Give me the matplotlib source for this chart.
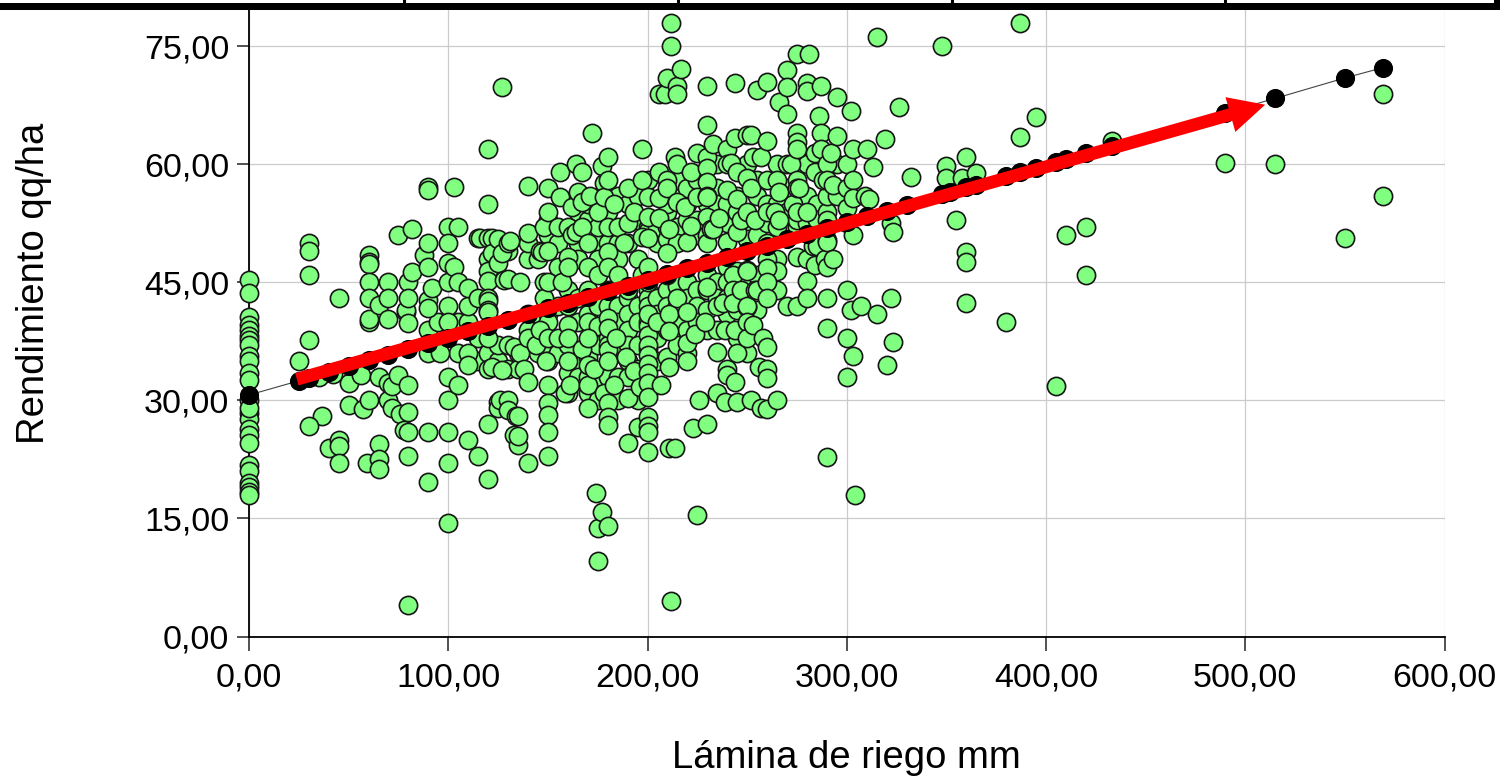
import matplotlib
matplotlib.use('Agg')
import matplotlib.pyplot as plt
import numpy as np
from matplotlib.lines import Line2D
from matplotlib.patches import Rectangle
from matplotlib.ticker import FuncFormatter

plt.rcParams['font.family'] = ['Liberation Sans', 'DejaVu Sans']

#(lamina, rendimiento), grouped by lamina range
sin_riego = [(0,45.3),(0,43.7),(0,40.6),(0,39.6),(0,39.0),(0,38.2),(0,37.7),(0,37.0),(0,35.6),(0,35.0),
             (0,33.5),(0,32.6),(0,28.4),(0,27.6),(0,26.4),(0,25.6),(0,24.6),(0,21.8),(0,21.0),(0,19.5),
             (0,19.0),(0,18.4),(0,18.0),(0,30.0),(0,29.0)]

riego_50 = [(30,50),(30,49),(30,46),(45,43),(30,37.7),(25,35),(36.5,28),(30,26.7),(40,24),(45,25),(45,24.2),
            (45,22),(50,32.2),(50,29.4),(56,33.3),(57,28.9),(42,33.4),(35,33),(60,48.5),(60,47.6),(60,47.3),
            (60,45.1),(60,43),(60,40),(60,40.3),(65,42.1),(65,33),(60,30),(59,22),(65,24.5),(65,22.5),(65,21.3),
            (70,45),(70,43),(70,40.3),(70,30),(70,32.2),(72,31.8),(72,29.1),(75,33.2),(76,28.3),(75,51),(78,26.2),
            (79,41.3),(79,41.5),(80,45),(80,43),(80,39.8),(80,32),(80,28.6),(80,26),(80,23),(80,4),(82,46.3),(82,51.8),
            (88,48.5),(90,50),(90,57.1),(90,56.7),(90,47),(90,42.8),(90,41.7),(90,36),(90,26),(90,19.7),(92,44.3),(96,36)]

riego_100 = [(100,52),(100,50),(100,47.5),(100,45),(100,42),(100,40),(100,33),(100,30),(100,26),(100,22),(100,14.4),
             (103,57.1),(103,47),(105,52),(105,45),(105,32),(110,44.3),(110,25),(110,36),(110,34.5),(115,50.6),(115,43),(115,23),
             (116,50.6),(120,62),(120,55),(120,50.7),(120,48),(120,46.5),(120,45.2),(120,43),(120,42.6),(120,41.5),
             (120,41.3),(120,38),(120,34),(120,27),(120,20),(122,50.6),(122,48.7),(122,34.3),(125,50.5),(125,47.5),
             (125,29.8),(125,29),(126,30),(127,48.8),(127,33.9),(127,69.8),(128,45.3),(130,50),(130,45.4),(130,30),(130,28.8),
             (131,50.3),(133,36.8),(133,25.6),(134,28),(135,28),(135,24.3),(135,25.5),(136,45),(136,36),(138,34),
             (140,57.3),(140,51.3),(140,38),(140,32.4),(140,22),(144,37),(145,48),(146,39),(146,49),(147,48.9),
             (148,52),(148,45),(148,43),(149,35),(150,57),(150,54),(150,49),(150,45),(150,38),(150,32),(150,29.7),(150,28.2),
             (150,26),(150,23),(155,52),(155,38),(156,59),(156,55.9),(157,45),(158.6,31),(160,52),(160,48.3),(160,47),
             (160,39.6),(160,38),(160,35),(161,32),(162,54.6),(162,51),(164,60),(164,51.4),(165,56.5),(167,59),(167,55.2),
             (167,52),(167,36.6),(170,50),(170,47),(170,44),(170,38),(170,34.5),(170,32),(170,29),(171,56),(172,64),(173,34),
             (174,18.2),(175,54),(175,46),(175,9.6),(175,13.8),(177,59.8),(177,15.8),(178,57.6),(178,55.9),(178,31)]

riego_180 = [(180,61),(180,58),(180,52),(180,48.9),(180,47),(180,40.5),(180,39.2),(180,36.4),(180,35),(180,29.7),(180,27.9),
             (180,26.9),(180,14),(183,55),(183,32),(184,38),(185,52),(185,46),(188,50),(189,35.5),(190,57),(190,52.5),(190,44),
             (190,30.3),(190,24.6),(193,54),(193,33.7),(195,26.6),(196,31.7),(197,62),(197,58),(197,50.8),(197,46),(200,55.9),
             (200,53.3),(200,50.7),(200,47),(200,45),(200,41),(200,38.3),(200,37),(200,35.8),(200,34.6),(200,33.5),(200,32.2),
             (200,30.5),(200,27.9),(200,26.7),(200,26),(200,23.5),(205,40),(206,69),(206,59),(206,55.7),(206,53.2),(207,32),
             (209,69),(210,71),(210,58),(210,57),(210,48.7),(210,46),(211,51.8),(211,41),(211,38.8),(211,34.3),(211,24),(212,78),
             (212,75),(212,4.5),(214,61),(214,24),(215,70),(215,69),(215,60),(215,55.2),(215,43),(217,72.2),(219,54.6),(220,50.2),
             (220,41.3),(220,37.3),(220,35),(222,59),(222,52.2),(224,38.5),(225,61.4),(225,55.9),(225,15.4),(226,30),(223,26.5),
             (229,40),(230,70),(230,65),(230,61),(230,59.5),(230,57.8),(230,56),(230,55.9),(230,53.3),(230,50),(230,44.4),(230,27),
             (232,51.8),(233,62.6),(233,51.8),(235,42),(235,36.2),(235,31),(236,53.2),(238,42.4),(239,39),(239,29.8),(240,62),
             (240,60),(240,56.7),(240,50.2),(240,34),(240,33.2),(242,60.2),(243,46),(243,44),(243,42.4),(244,70.4),(244,63.4),
             (244,39),(244,32.4),(245,59),(245,55.6),(245,51.4),(245,36),(245,29.8),(247,53),(247,44.1)]

riego_250 = [(250,63.7),(250,58.3),(250,54),(250,46.6),(250,46.5),(250,41.9),(250,42),(250,40),(250,38),(252,63.7),(252,57),
             (252,30),(253,61),(253,39.6),(254,53),(254,44),(255,69.5),(255,44),(256,34.2),(257,61),(257,29),(258,38),
             (260,70.5),(260,63),(260,58),(260,54),(260,48),(260,46.8),(260,45),(260,43),(260,36.8),(260,34),(260,32.8),
             (260,28.9),(264,54),(265,58),(265,30),(266,68),(266,56.5),(266,53),(270,72),(270,69.8),(270,66.4),(270,42),
             (272,60),(273,55),(275,74),(275,64),(275,62.9),(275,62),(275,58),(275,57),(275,54),(275,48.3),(275,42),
             (276,57),(280,70.3),(280,69.4),(280,54),(280,48),(280,45.2),(280,43),(281,74),(283,49.7),(284,61.4),(284,59),
             (284,47.2),(285,49.7),(286,66.2),(287,70),(287,64),(287,62),(288,58),(289,48),(290,60),(290,58),(290,50.4),
             (290,50.2),(290,47),(290,43),(290,39.2),(290,22.8),(292,61.5),(293,57.4),(293,48),(295,68.6),(295,63.6)]

riego_300 = [(300,57),(300,44),(300,38),(300,33),(302,66.8),(302,41.5),(303,62),(303,58),(303,55.7),(303,51),(303,35.6),(304,18),
             (307,42),(309,56),(310,62),(311,55.6),(313,59.7),(315,76.2),(315,41),(319,63.2),(320,34.5),(322,52.5),(322,43),
             (323,51.4),(323,37.4),(326,67.3),(332,58.4),(348,75),(350,59.8),(350,58.3),(355,53),(358,58.3),(360,61),(360,48.9),
             (360,47.6),(360,42.4),(365,58.9),(380,40),(387,78),(387,63.5),(395,66),(405,31.8),(410,51),(420,52),(420,46),
             (433,63),(490,60.2),(515,60),(550,50.7),(569,69),(569,56)]

#second pass, points in the crowded band under and over the fitted line
bajo_linea = [(90,39),(95,40),(105,36),(105,40),(110,40),(110,42),(115,38),(115,35),(120,36),(125,35),(125,37),(130,37),(130,34),
              (135,36),(135,34),(140,41),(140,39),(145,41),(145,36),(150,41),(150,40),(150,36),(150,35),(155,42),(155,36),
              (160,44),(160,42),(160,37),(160,33.5),(160,31),(165,43),(165,40),(165,35),(165,33),(170,43),(170,41),(170,40),
              (170,36),(170,35.5),(170,33),(170,31),(175,43),(175,42),(175,39.5),(175,37),(175,33),(175,30),(180,44),(180,42),
              (180,38),(180,37),(180,33),(185,42),(185,40),(185,36),(185,33),(185,30),(190,43),(190,41),(190,39),(190,37),
              (190,35),(190,33),(195,42),(195,40),(195,37),(195,34),(195,30),(200,44),(200,43),(200,42),(200,40),(200,39.5),
              (200,36.5),(200,31),(205,43),(205,41),(205,38),(205,35),(210,44),(210,42),(210,39),(210,35.5),(215,44.5),(215,42),
              (215,40),(215,37),(220,45),(220,43),(220,39),(220,36),(225,44),(225,42),(225,40),(230,46),(230,44),(230,41.5),
              (230,39),(235,45),(235,43),(235,39),(240,47),(240,45),(240,43),(240,41),(245,46.5),(245,43),(245,41.5),(245,38),
              (250,44.5),(250,38.5),(250,36),(255,46),(255,41.5),(265,48),(265,46.5),(265,44)]

sobre_linea = [(130,49),(140,48),(140,50),(150,51),(150,53),(155,47),(155,50),(165,50),(165,48),(165,54),(170,53),(170,55),(175,50),
               (175,52),(175,48),(180,50),(180,54),(185,50),(185,56),(185,48),(190,55),(190,50),(195,56),(195,53),(195,48),
               (200,58),(200,52),(200,51.5),(205,50),(205,52),(210,52),(210,54),(210,50.5),(210,55),(215,52),(215,57),(215,58),
               (215,50),(220,55),(220,57),(220,53),(225,58),(225,53),(225,51),(230,52),(230,51),(230,55),(235,57),(235,55),(235,60),
               (240,54),(240,55),(240,52.5),(245,54),(245,56),(250,52),(250,50.5),(250,60),(255,51),(255,56),(255,58),(260,55),
               (260,50),(260,52.5),(265,60),(265,55),(265,52),(270,57),(270,54),(270,60),(275,52),(275,53),(280,56),(280,60),
               (280,52.5),(285,55),(285,53),(290,54),(290,53),(290,56),(295,60),(295,56),(300,54.5),(300,52.5),(300,60)]

#fitted values, black dots
lamina_ajuste = [0,25,30,40,50,60,70,80,90,100,110,120,130,140,150,160,170,180,190,200,210,220,230,240,250,260,270,
                 280,290,300,310,320,330,348,352,360,365,380,387,395,405,410,420,433,490,515,550,569]
rend_ajuste = [30.7,32.5,32.9,33.6,34.4,35.1,35.8,36.6,37.3,38.0,38.8,39.5,40.2,41.0,41.7,42.4,43.1,43.9,44.6,45.3,46.1,
               46.8,47.5,48.3,49.0,49.7,50.5,51.2,51.9,52.7,53.4,54.1,54.9,56.2,56.5,57.1,57.4,58.5,59.0,59.6,60.3,60.7,
               61.4,62.4,66.6,68.4,71.0,72.3]

#arrow ends
flecha_ini = (24, 32.7)
flecha_fin = (510, 67.6)

x_ticks = [0, 100, 200, 300, 400, 500, 600]
y_ticks = [0, 15, 30, 45, 60, 75]

W, H = 1500, 777
fig = plt.figure(figsize=(W/100, H/100), dpi=100)
ax = fig.add_axes([249/W, 1-636.5/H, (1444.5-249)/W, (636.5-10)/H])

#crowded points first so the ones read exactly stay on top
extra = np.array(bajo_linea + sobre_linea)
puntos = np.array(sin_riego + riego_50 + riego_100 + riego_180 + riego_250 + riego_300)
ax.scatter(extra[:,0], extra[:,1], s=172, c='#80ff80', edgecolors='#151515', linewidths=1.2, zorder=3)
ax.scatter(puntos[:,0], puntos[:,1], s=172, c='#80ff80', edgecolors='#151515', linewidths=1.2, zorder=3, clip_on=False)

ax.plot(lamina_ajuste, rend_ajuste, color='#444444', lw=0.8, zorder=4)
ax.scatter(lamina_ajuste, rend_ajuste, s=190, c='black', linewidths=0, zorder=5, clip_on=False)

ax.annotate('', xy=flecha_fin, xytext=flecha_ini, zorder=6,
            arrowprops=dict(facecolor='#ff0000', edgecolor='#ff0000', width=9.2, headwidth=26, headlength=26, shrink=0, lw=0))

ax.set_xlim(0, 600)
ax.set_ylim(0, (636.5-10)/7.867)
ax.set_xticks(x_ticks)
ax.set_yticks(y_ticks)
coma = FuncFormatter(lambda v, pos: ('%.2f' % v).replace('.', ','))
ax.xaxis.set_major_formatter(coma)
ax.yaxis.set_major_formatter(coma)
ax.tick_params(axis='x', labelsize=24.5, length=10, width=1.1, color='#222222', pad=9)
ax.tick_params(axis='y', labelsize=24.5, length=8.6, width=1.1, color='#222222', pad=5.5)
ax.grid(True, color='#cbcbcb', lw=0.9, zorder=0)
ax.set_axisbelow(True)
ax.spines['top'].set_visible(False)
ax.spines['right'].set_visible(False)
ax.spines['left'].set_linewidth(1.3)
ax.spines['bottom'].set_linewidth(1.3)

fig.text(846/W, 1-758/H, 'Lámina de riego mm', fontsize=27.5, ha='center', va='center')
fig.text(34/W, 1-283/H, 'Rendimiento qq/ha', fontsize=27.5, ha='center', va='center', rotation=90)

#cropped axis of the panel above
fig.add_artist(Rectangle((0, 1-9.5/H), 1, 6.5/H, transform=fig.transFigure, color='black', lw=0))
for px in [404, 678, 952, 1225]:
    fig.add_artist(Line2D([px/W, px/W], [1-4/H, 1], color='black', lw=2.2))
fig.add_artist(Rectangle((1494/W, 1-4/H), 6/W, 4/H, transform=fig.transFigure, color='black', lw=0))

fig.savefig('out.png', dpi=100)
